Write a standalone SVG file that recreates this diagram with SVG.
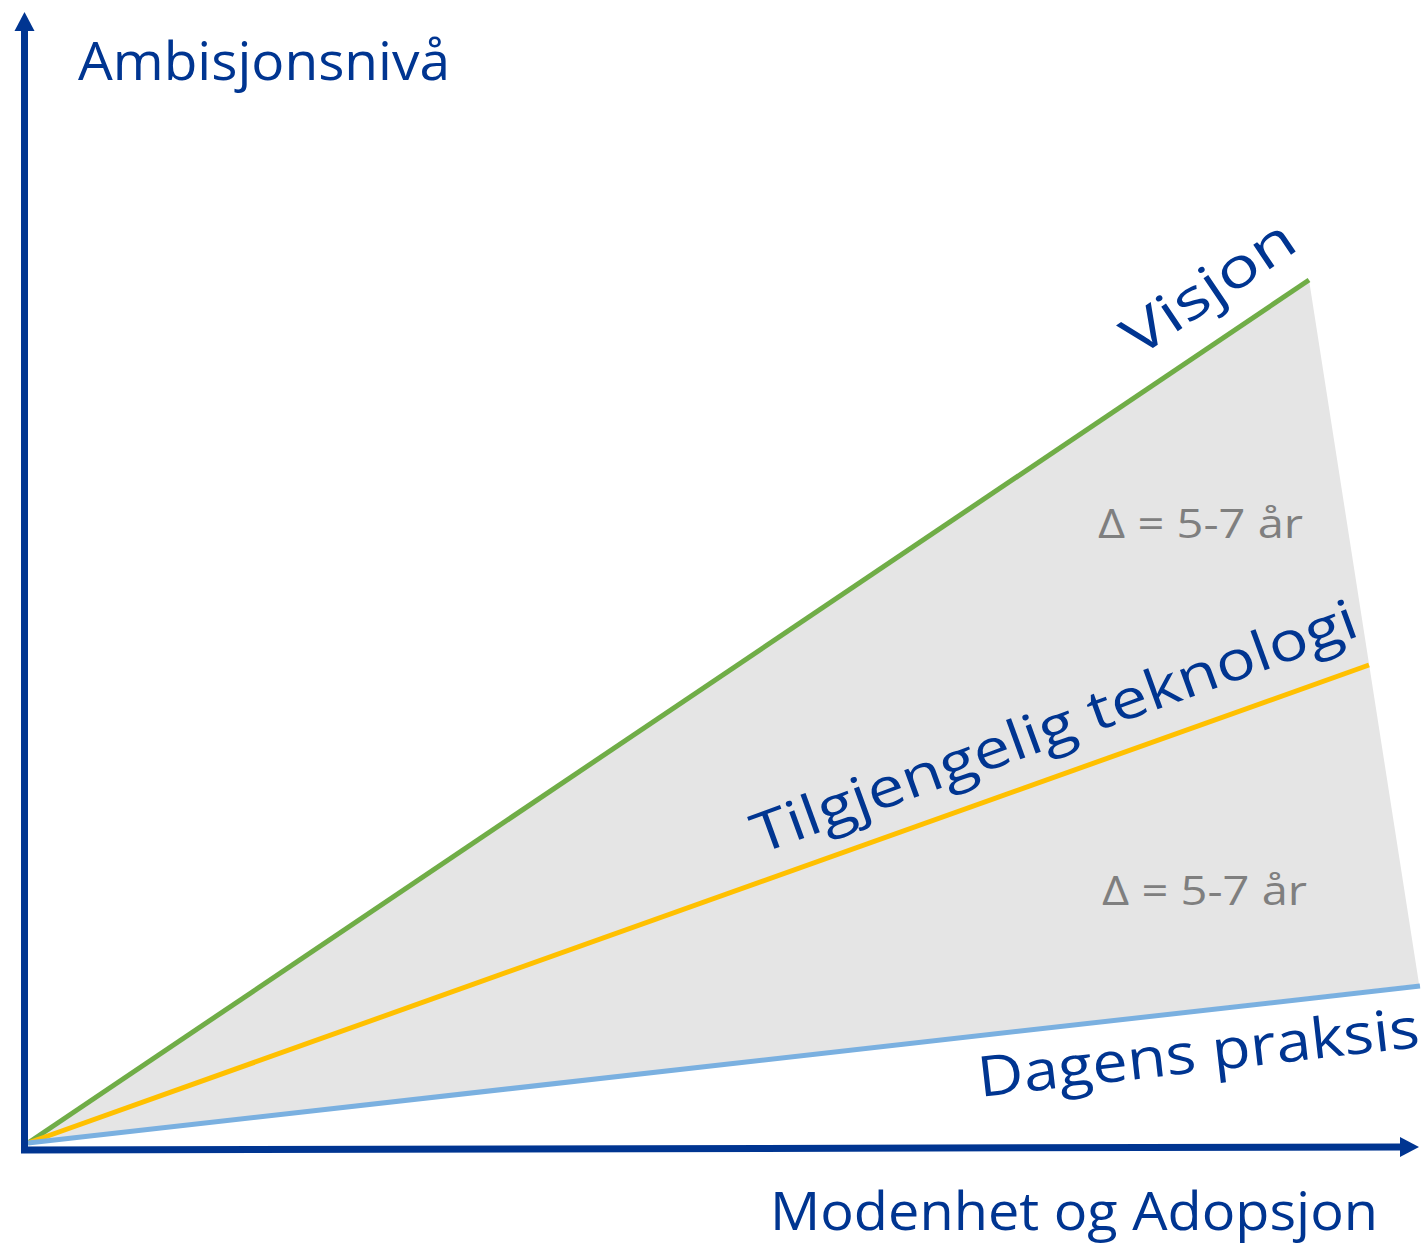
<svg xmlns="http://www.w3.org/2000/svg" width="1428" height="1246" viewBox="0 0 1428 1246">
<style>
.lbl{font-family:"Open Sans","Liberation Sans",sans-serif;fill:#003591;font-size:53px}
.dl{font-family:"Open Sans","Liberation Sans",sans-serif;fill:#7f7f7f;font-size:40px}
</style>
<rect width="1428" height="1246" fill="#fff"/>
<g id="area">
<polygon points="28,1143 1309,280 1419,984" fill="#e5e5e5"/>
</g>
<g id="connectors">
<line x1="28" y1="1143" x2="1309" y2="280" stroke="#70ad47" stroke-width="5"/>
<line x1="28" y1="1143" x2="1369" y2="665" stroke="#ffc000" stroke-width="5"/>
<line x1="28" y1="1143" x2="1420" y2="986" stroke="#7ab0e0" stroke-width="5"/>
<line x1="24.5" y1="1153" x2="24.5" y2="30" stroke="#003591" stroke-width="7"/>
<polygon points="24.5,12 14.5,31 34.5,31" fill="#003591"/>
<line x1="21" y1="1150" x2="1401" y2="1147" stroke="#003591" stroke-width="7"/>
<polygon points="1419,1147 1400,1137 1400,1157" fill="#003591"/>
</g>
<g id="y-label"><text class="lbl" x="78" y="80" textLength="372" lengthAdjust="spacingAndGlyphs">Ambisjonsnivå</text></g>
<g id="x-label"><text class="lbl" x="770" y="1230" textLength="608" lengthAdjust="spacingAndGlyphs">Modenhet og Adopsjon</text></g>
<g id="visjon"><text class="lbl" style="font-size:55px" transform="translate(1138,358) rotate(-34)" textLength="196" lengthAdjust="spacingAndGlyphs">Visjon</text></g>
<g id="teknologi"><text class="lbl" style="font-size:55px" transform="translate(760,854) rotate(-20)" textLength="640" lengthAdjust="spacingAndGlyphs">Tilgjengelig teknologi</text></g>
<g id="praksis"><text class="lbl" style="font-size:56px" transform="translate(980,1097) rotate(-6.5)" textLength="444" lengthAdjust="spacingAndGlyphs">Dagens praksis</text></g>
<g id="delta1"><text class="dl" x="1098" y="538" textLength="205" lengthAdjust="spacingAndGlyphs">Δ = 5-7 år</text></g>
<g id="delta2"><text class="dl" x="1102" y="905" textLength="205" lengthAdjust="spacingAndGlyphs">Δ = 5-7 år</text></g>
</svg>
